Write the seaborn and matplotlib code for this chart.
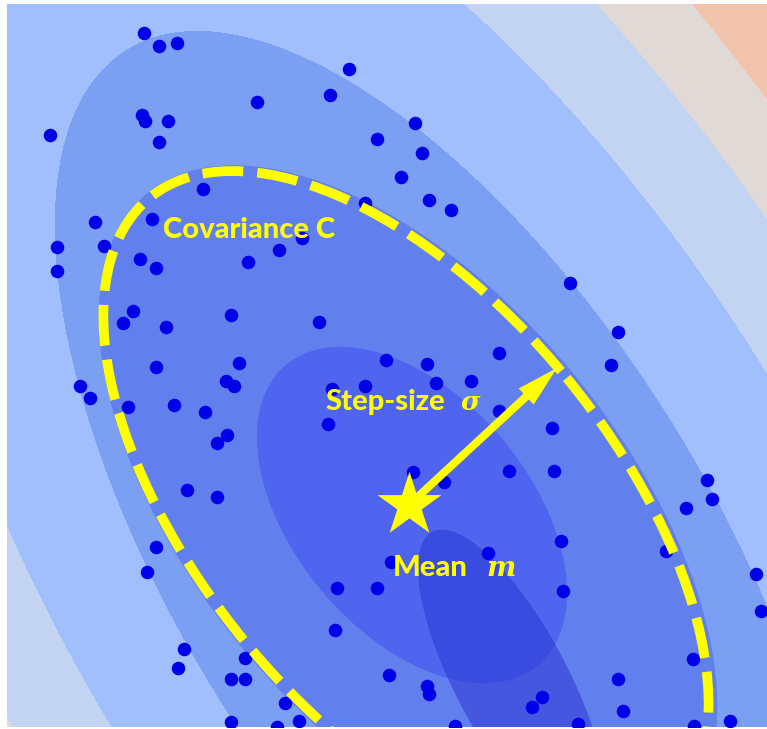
import matplotlib

matplotlib.use("Agg")

import matplotlib.pyplot as plt
import numpy as np
import seaborn as sns
from matplotlib.patches import Ellipse, FancyArrow

# candidate solutions (picture pixel coordinates, y pointing down)
sample_x = [
    144, 159, 177, 349, 257, 330, 142, 145, 168, 159, 50, 377,
    415, 422, 401, 429, 451, 570, 618, 611, 203, 152, 95, 57,
    57, 104, 140, 156, 133, 123, 166, 156, 302, 279, 248, 231,
    319, 239, 386, 427, 499, 365,
    80, 90, 128, 174, 187, 156, 147, 184, 178, 226, 234, 205,
    217, 227, 217, 332, 365, 328, 337, 377, 335, 245, 231, 245,
    285, 231, 277, 299, 389,
    436, 471, 499, 552, 509, 554, 413, 444, 561, 488, 391, 563,
    427, 429, 542, 532, 455, 578, 707, 712, 686, 666, 756, 761,
    693, 618, 623, 730, 694,
]
sample_y = [
    33, 46, 43, 69, 102, 95, 115, 121, 121, 142, 135, 139,
    123, 153, 177, 200, 210, 283, 332, 365, 189, 219, 222, 247,
    271, 246, 259, 268, 311, 323, 327, 367, 238, 250, 262, 315,
    322, 363, 360, 364, 353, 203,
    386, 398, 407, 405, 490, 547, 572, 649, 668, 381, 386, 412,
    443, 435, 497, 389, 386, 424, 588, 588, 630, 658, 679, 679,
    703, 722, 727, 721, 675,
    383, 381, 411, 428, 471, 471, 472, 482, 541, 553, 562, 591,
    686, 694, 697, 707, 726, 724, 480, 499, 508, 551, 574, 611,
    659, 679, 711, 721, 726,
]

# objective function bands (quadratic, level values)
band_levels = [1.0, 1.96, 2.96, 3.92]
band_colors = ["#7b9ff2", "#a0bffc", "#c2d4f1", "#e0d9d5", "#f2c4ad"]
f_center = (445, 560)
f_semi_axes = (602, 266)
f_angle = 58

# search distribution shading: (cx, cy, width, height, angle, color)
dist_regions = [
    (408, 511, 822, 430, 50.6, "#6180ee"),
    (412, 515, 392, 236, 50.0, "#4f64ef"),
]
best_region = (512, 682, 340, 112, 62.0)
best_colors = ["#4457de", "#3a4ce0"]

cov_ellipse = (406, 510, 808, 416, 50.6)
mean_m = (409, 505)
step_tip = (557, 368)

YELLOW = "#ffff00"

sns.set_style("white")
plt.rcParams["font.family"] = ["Lato", "DejaVu Sans"]

fig = plt.figure(figsize=(7.67, 7.29), dpi=100)
ax = fig.add_axes([7 / 767, 2 / 729, 760 / 767, 723 / 729])

# background contour of the objective
gx, gy = np.meshgrid(np.arange(7, 768), np.arange(4, 728))
t = np.deg2rad(f_angle)
du, dv = gx - f_center[0], gy - f_center[1]
u = du * np.cos(t) + dv * np.sin(t)
v = -du * np.sin(t) + dv * np.cos(t)
fval = (u / f_semi_axes[0]) ** 2 + (v / f_semi_axes[1]) ** 2
ax.contourf(gx, gy, fval, levels=[-1] + band_levels + [1e6], colors=band_colors, zorder=0)

for cx, cy, w, h, ang, col in dist_regions:
    ax.add_patch(Ellipse((cx, cy), w, h, angle=ang, facecolor=col, edgecolor="none", zorder=1))

bx, by, bw, bh, bang = best_region
ax.add_patch(Ellipse((bx, by), bw, bh, angle=bang, facecolor=best_colors[0], edgecolor="none", zorder=1.2))
inner = Ellipse(dist_regions[1][:2], *dist_regions[1][2:4], angle=dist_regions[1][4], transform=ax.transData)
dark = Ellipse((bx, by), bw, bh, angle=bang, facecolor=best_colors[1], edgecolor="none", zorder=1.3)
ax.add_patch(dark)
dark.set_clip_path(inner)

sns.scatterplot(x=sample_x, y=sample_y, ax=ax, color="#0000e8", s=95, linewidth=0, zorder=2, legend=False)

ex, ey, ew, eh, eang = cov_ellipse
ax.add_patch(Ellipse((ex, ey), ew, eh, angle=eang, fill=False, edgecolor=YELLOW,
                     linewidth=7, linestyle=(0, (4.2, 1.45)), zorder=3))

ax.add_patch(FancyArrow(mean_m[0], mean_m[1], step_tip[0] - mean_m[0], step_tip[1] - mean_m[1],
                        width=8, head_width=22, head_length=42, length_includes_head=True,
                        color=YELLOW, linewidth=0, zorder=4))
ax.scatter([mean_m[0]], [mean_m[1]], marker="*", s=2350, color=YELLOW, linewidth=0, zorder=5)

label_kw = dict(color=YELLOW, fontsize=21, fontweight=900, zorder=6)
math_kw = dict(color=YELLOW, family="DejaVu Serif", style="italic", fontweight="bold", zorder=6)
ax.text(163, 238, "Covariance C", **label_kw)
ax.text(325, 410, "Step-size", **label_kw)
ax.text(461, 410, "σ", fontsize=19, **math_kw)
ax.text(393, 576, "Mean", **label_kw)
ax.text(486, 576, "m", fontsize=20, **math_kw)

ax.set_xlim(7, 767)
ax.set_ylim(727, 4)
ax.axis("off")

fig.savefig("out.png", dpi=100, facecolor="white")
plt.close(fig)
